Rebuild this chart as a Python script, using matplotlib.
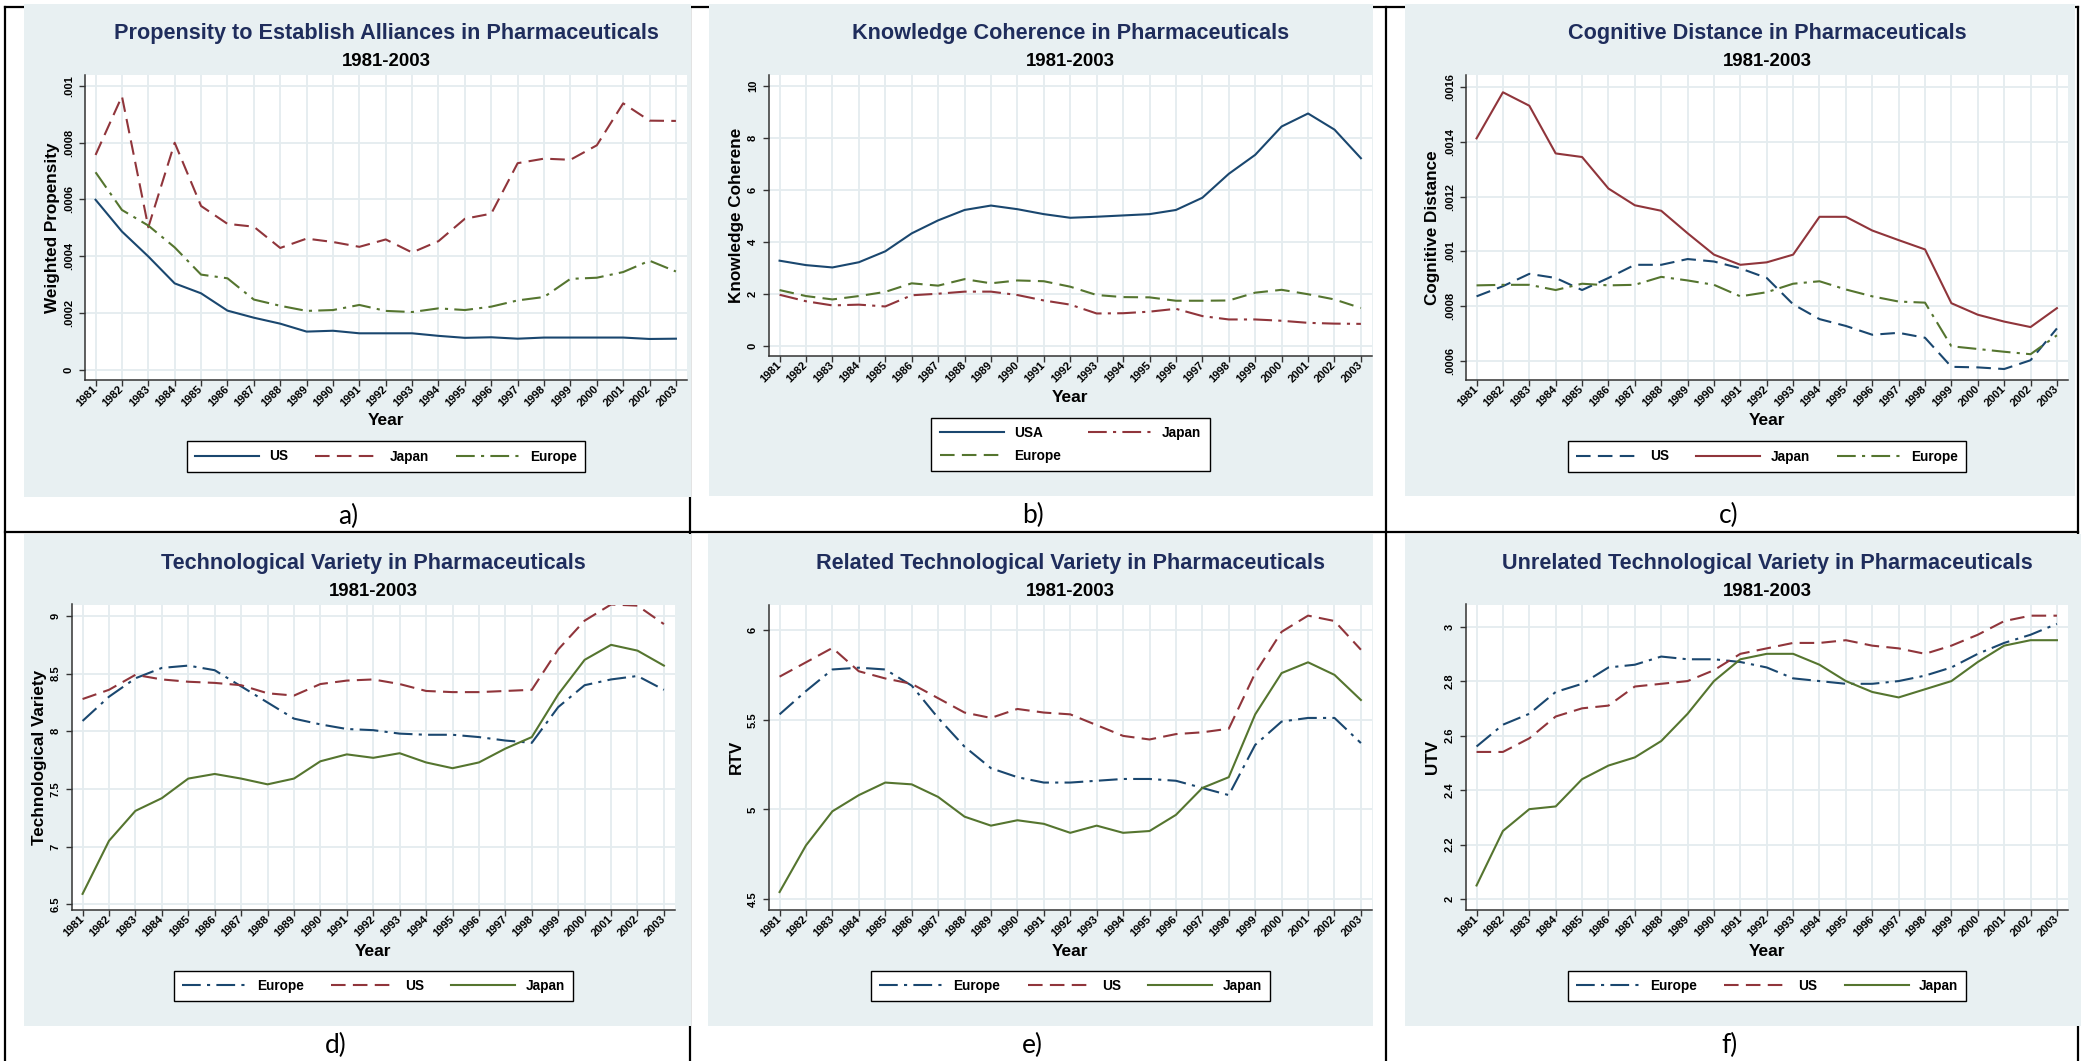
import matplotlib
matplotlib.use("Agg")
import matplotlib.pyplot as plt
from matplotlib.patches import Rectangle
from matplotlib.lines import Line2D

# ---- data ----
years = list(range(1981, 2004))
year_labels = [str(y) for y in years]

# a) propensity to establish alliances
prop_us = [.000599, .000487, .000399, .000304, .000269, .000208, .000183, .000162, .000134, .000137, .000128, .000128,
           .000128, .000119, .000112, .000114, .000109, .000113, .000113, .000113, .000113, .000108, .000109]
prop_japan = [.000757, .000964, .000502, .0008, .000577, .000514, .000504, .000429, .000462, .00045, .000433, .000459,
              .000413, .000453, .000532, .00055, .000728, .000744, .00074, .000791, .000939, .000878, .000877]
prop_europe = [.000696, .000563, .000508, .000431, .000335, .000322, .000247, .000225, .000207, .00021, .000228, .000207,
               .000203, .000216, .00021, .000222, .000244, .000256, .00032, .000324, .000344, .000384, .000346]
prop_ticks = [0, .0002, .0004, .0006, .0008, .001]
prop_ticklabels = ['0', '.0002', '.0004', '.0006', '.0008', '.001']

# b) knowledge coherence
coh_usa = [3.28, 3.11, 3.02, 3.22, 3.64, 4.33, 4.83, 5.23, 5.40, 5.26, 5.07, 4.93, 4.97, 5.02, 5.07, 5.23, 5.70, 6.62,
           7.35, 8.44, 8.94, 8.32, 7.22]
coh_japan = [1.97, 1.72, 1.56, 1.59, 1.52, 1.95, 2.01, 2.09, 2.09, 1.96, 1.75, 1.59, 1.25, 1.26, 1.32, 1.43, 1.15, 1.02,
             1.02, 0.97, 0.89, 0.86, 0.85]
coh_europe = [2.15, 1.92, 1.79, 1.92, 2.08, 2.41, 2.32, 2.57, 2.41, 2.52, 2.49, 2.28, 1.96, 1.88, 1.87, 1.74, 1.74, 1.75,
              2.05, 2.16, 1.99, 1.79, 1.46]
coh_ticks = [0, 2, 4, 6, 8, 10]
coh_ticklabels = ['0', '2', '4', '6', '8', '10']

# c) cognitive distance
dist_us = [.000836, .000873, .000918, .000903, .000859, .000903, .000951, .000951, .000972, .000963, .000938, .000903,
           .000807, .000753, .000728, .000696, .000703, .000685, .000579, .000577, .000571, .000603, .000719]
dist_japan = [.001412, .00158, .001531, .001357, .001344, .001229, .001168, .001148, .001066, .000988, .000951, .00096,
              .000988, .001126, .001126, .001076, .001041, .001007, .000811, .000769, .000744, .000724, .000793]
dist_europe = [.000876, .000878, .000878, .000859, .000882, .000876, .000878, .000907, .000894, .000878, .000836, .000851,
               .000882, .000891, .000861, .000836, .000817, .000813, .000654, .000644, .000634, .000625, .000694]
dist_ticks = [.0006, .0008, .001, .0012, .0014, .0016]
dist_ticklabels = ['.0006', '.0008', '.001', '.0012', '.0014', '.0016']

# d) technological variety
tv_europe = [8.09, 8.30, 8.46, 8.55, 8.57, 8.53, 8.39, 8.25, 8.11, 8.06, 8.02, 8.01, 7.98, 7.97, 7.97, 7.95, 7.92, 7.90,
             8.21, 8.40, 8.45, 8.48, 8.36]
tv_us = [8.28, 8.36, 8.49, 8.45, 8.43, 8.42, 8.40, 8.33, 8.31, 8.41, 8.44, 8.45, 8.41, 8.35, 8.34, 8.34, 8.35, 8.36,
         8.71, 8.96, 9.10, 9.09, 8.93]
tv_japan = [6.59, 7.05, 7.31, 7.42, 7.59, 7.63, 7.59, 7.54, 7.59, 7.74, 7.80, 7.77, 7.81, 7.73, 7.68, 7.73, 7.85, 7.95,
            8.32, 8.62, 8.75, 8.70, 8.57]
tv_ticks = [6.5, 7, 7.5, 8, 8.5, 9]
tv_ticklabels = ['6.5', '7', '7.5', '8', '8.5', '9']

# e) related technological variety
rtv_europe = [5.53, 5.66, 5.78, 5.79, 5.78, 5.69, 5.51, 5.35, 5.23, 5.18, 5.15, 5.15, 5.16, 5.17, 5.17, 5.16, 5.12, 5.08,
              5.36, 5.49, 5.51, 5.51, 5.37]
rtv_us = [5.74, 5.82, 5.90, 5.77, 5.73, 5.70, 5.62, 5.54, 5.51, 5.56, 5.54, 5.53, 5.47, 5.41, 5.39, 5.42, 5.43, 5.45,
          5.76, 5.99, 6.08, 6.05, 5.89]
rtv_japan = [4.54, 4.80, 4.99, 5.08, 5.15, 5.14, 5.07, 4.96, 4.91, 4.94, 4.92, 4.87, 4.91, 4.87, 4.88, 4.97, 5.12, 5.18,
             5.53, 5.76, 5.82, 5.75, 5.61]
rtv_ticks = [4.5, 5, 5.5, 6]
rtv_ticklabels = ['4.5', '5', '5.5', '6']

# f) unrelated technological variety
utv_europe = [2.56, 2.64, 2.68, 2.76, 2.79, 2.85, 2.86, 2.89, 2.88, 2.88, 2.87, 2.85, 2.81, 2.80, 2.79, 2.79, 2.80, 2.82,
              2.85, 2.90, 2.94, 2.97, 3.01]
utv_us = [2.54, 2.54, 2.59, 2.67, 2.70, 2.71, 2.78, 2.79, 2.80, 2.84, 2.90, 2.92, 2.94, 2.94, 2.95, 2.93, 2.92, 2.90,
          2.93, 2.97, 3.02, 3.04, 3.04]
utv_japan = [2.05, 2.25, 2.33, 2.34, 2.44, 2.49, 2.52, 2.58, 2.68, 2.80, 2.88, 2.90, 2.90, 2.86, 2.80, 2.76, 2.74, 2.77,
             2.80, 2.87, 2.93, 2.95, 2.95]
utv_ticks = [2, 2.2, 2.4, 2.6, 2.8, 3]
utv_ticklabels = ['2', '2.2', '2.4', '2.6', '2.8', '3']

# ---- styles ----
navy = '#1a476f'
maroon = '#90353b'
green = '#55752f'
bgcol = '#e8f0f2'
gridcol = '#e4ecef'
titlecol = '#1f2d5c'
SOLID = '-'
DASH = (0, (7, 3.5))
DASHDOT = (0, (9, 3, 1.5, 3))

plt.rcParams['font.family'] = ['Liberation Sans', 'DejaVu Sans']

W, H = 2089, 1061
fig = plt.figure(figsize=(W / 100, H / 100), dpi=100)
fig.patch.set_facecolor('white')


def fx(x):
    return x / W


def fy(y):
    return 1 - y / H


# table borders
def hline(y, x0, x1):
    fig.add_artist(Line2D([fx(x0), fx(x1)], [fy(y), fy(y)], transform=fig.transFigure,
                          color='black', lw=1.6, zorder=-3))


def vline(x, y0, y1):
    fig.add_artist(Line2D([fx(x), fx(x)], [fy(y0), fy(y1)], transform=fig.transFigure,
                          color='black', lw=1.6, zorder=-3))


hline(7, 5, 2078)
hline(532, 5, 2078)
for xv in [5, 690, 1386, 2078]:
    vline(xv, 7, 1061)


def panel(box, bg, title, ylabel, ylab_x, ylim, yticks, yticklabels, series, leg_order, ncol, leg_c, letter):
    x0, y0, x1, y1 = box
    bx0, by0, bx1, by1 = bg
    fig.add_artist(Rectangle((fx(bx0), fy(by1)), (bx1 - bx0) / W, (by1 - by0) / H,
                             transform=fig.transFigure, facecolor=bgcol, edgecolor='none', zorder=-2))
    ax = fig.add_axes([fx(x0), fy(y1), (x1 - x0) / W, (y1 - y0) / H])
    ax.set_facecolor('white')
    handles = []
    for vals, lab, col, ls in series:
        ln, = ax.plot(years, vals, color=col, linestyle=ls, lw=1.5, label=lab)
        handles.append(ln)
    ax.set_xlim(1980.6, 2003.42)
    ax.set_ylim(*ylim)
    ax.set_xticks(years)
    ax.set_xticklabels(year_labels, rotation=45, ha='right', va='center', rotation_mode='anchor',
                       fontsize=8, fontweight='bold')
    ax.set_yticks(yticks)
    ax.set_yticklabels(yticklabels, rotation=90, va='center', fontsize=8, fontweight='bold')
    ax.tick_params(axis='x', length=4, width=1, pad=1.5, color='#333333')
    ax.tick_params(axis='y', length=4, width=1, pad=4, color='#333333')
    ax.grid(True, color=gridcol, lw=1.3)
    ax.set_axisbelow(True)
    for s in ['top', 'right']:
        ax.spines[s].set_visible(False)
    for s in ['left', 'bottom']:
        ax.spines[s].set_color('#333333')
        ax.spines[s].set_linewidth(1.1)

    cx = (x0 + x1) / 2
    fig.text(fx(cx), fy(by0 + 29), title, ha='center', va='center', fontsize=15.6,
             fontweight='bold', color=titlecol)
    fig.text(fx(cx), fy(by0 + 58), '1981-2003', ha='center', va='center', fontsize=13.4,
             fontweight='bold', color='black')
    fig.text(fx(cx), fy(y1 + 41), 'Year', ha='center', va='center', fontsize=12.5,
             fontweight='bold', color='black')
    fig.text(fx(ylab_x), fy((y0 + y1) / 2), ylabel, ha='center', va='center', rotation=90,
             fontsize=12.3, fontweight='bold', color='black')
    fig.text(fx(cx - 38), fy(by1 + 19), letter, ha='center', va='center', fontsize=19,
             family=['Lato', 'DejaVu Sans'], color='black')

    hs = [handles[i] for i in leg_order]
    leg = ax.legend(hs, [h.get_label() for h in hs], loc='center', ncol=ncol,
                    bbox_to_anchor=(fx(cx), fy(leg_c)), bbox_transform=fig.transFigure,
                    frameon=True, fancybox=False, edgecolor='black', framealpha=1,
                    handlelength=4.7, handletextpad=0.75, columnspacing=2.0,
                    borderpad=0.6, labelspacing=0.7,
                    prop={'size': 9.8, 'weight': 'bold'})
    leg.get_frame().set_linewidth(1.0)
    return ax


panel((85, 75, 687, 380), (24, 4, 691, 497),
      'Propensity to Establish Alliances in Pharmaceuticals', 'Weighted Propensity', 53,
      (-0.0000367, 0.001039), prop_ticks, prop_ticklabels,
      [(prop_us, 'US', navy, SOLID), (prop_japan, 'Japan', maroon, DASH),
       (prop_europe, 'Europe', green, DASHDOT)],
      [0, 1, 2], 3, 456.5, 'a)')

panel((769, 75, 1372, 356), (709, 4, 1373, 496),
      'Knowledge Coherence in Pharmaceuticals', 'Knowledge Coherene', 736,
      (-0.385, 10.42), coh_ticks, coh_ticklabels,
      [(coh_usa, 'USA', navy, SOLID), (coh_japan, 'Japan', maroon, DASHDOT),
       (coh_europe, 'Europe', green, DASH)],
      [0, 2, 1], 2, 444.5, 'b)')

panel((1466, 75, 2068, 380), (1405, 4, 2075, 496),
      'Cognitive Distance in Pharmaceuticals', 'Cognitive Distance', 1433,
      (0.000531, 0.001643), dist_ticks, dist_ticklabels,
      [(dist_us, 'US', navy, DASH), (dist_japan, 'Japan', maroon, SOLID),
       (dist_europe, 'Europe', green, DASHDOT)],
      [0, 1, 2], 3, 456.5, 'c)')

panel((72, 604.5, 675, 910), (24, 534, 691, 1026),
      'Technological Variety in Pharmaceuticals', 'Technological Variety', 40,
      (6.45, 9.10), tv_ticks, tv_ticklabels,
      [(tv_europe, 'Europe', navy, DASHDOT), (tv_us, 'US', maroon, DASH),
       (tv_japan, 'Japan', green, SOLID)],
      [0, 1, 2], 3, 986, 'd)')

panel((769, 604.5, 1372, 910), (708, 534, 1373, 1026),
      'Related Technological Variety in Pharmaceuticals', 'RTV', 736,
      (4.44, 6.142), rtv_ticks, rtv_ticklabels,
      [(rtv_europe, 'Europe', navy, DASHDOT), (rtv_us, 'US', maroon, DASH),
       (rtv_japan, 'Japan', green, SOLID)],
      [0, 1, 2], 3, 986, 'e)')

panel((1466, 604.5, 2068, 910), (1405, 534, 2081, 1026),
      'Unrelated Technological Variety in Pharmaceuticals', 'UTV', 1432,
      (1.96, 3.081), utv_ticks, utv_ticklabels,
      [(utv_europe, 'Europe', navy, DASHDOT), (utv_us, 'US', maroon, DASH),
       (utv_japan, 'Japan', green, SOLID)],
      [0, 1, 2], 3, 986, 'f)')

fig.savefig('out.png', dpi=100, facecolor='white')
